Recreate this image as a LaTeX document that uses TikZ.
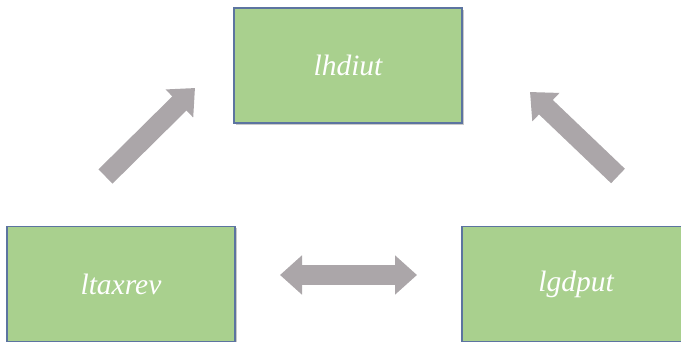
\documentclass[tikz,border=0pt]{standalone}
\usepackage{fontspec}
\setmainfont{Liberation Serif}
\usetikzlibrary{arrows.meta,shadows}

\definecolor{boxgreen}{RGB}{169,208,142}
\definecolor{boxedge}{RGB}{92,116,160}
\definecolor{arrowgray}{RGB}{171,166,169}

\tikzset{
  stagebox/.style={rectangle, draw=boxedge, line width=1.1pt, fill=boxgreen,
    minimum width=228pt, minimum height=115pt, text=white,
    font=\fontsize{29.5}{34}\selectfont\itshape,
    drop shadow={shadow xshift=2pt, shadow yshift=-2pt, opacity=0.3, fill=black!70}},
  blockarrow/.style={draw=arrowgray, line width=20pt, line cap=butt,
    -{Triangle[width=38pt, length=22pt, fill=arrowgray]}},
  twoarrow/.style={draw=arrowgray, line width=20pt, line cap=butt,
    {Triangle[width=38pt, length=22pt, fill=arrowgray]}-{Triangle[width=38pt, length=22pt, fill=arrowgray]}}
}

\begin{document}
\begin{tikzpicture}[x=1pt, y=-1pt]
    \useasboundingbox (0,0) rectangle (681,342);

    % Boxes
    \node[stagebox] (lhdiut) at (348,65.5) {lhdiut};
    \node[stagebox] (ltaxrev) at (121,284) {ltaxrev};
    \node[stagebox] (lgdput) at (576,284) {lgdput};

    % Arrow end points
    \coordinate (upleftfrom) at (105.5,176.5);
    \coordinate (uplefttip) at (195,88);
    \coordinate (uprightfrom) at (618,176);
    \coordinate (uprighttip) at (530,92);
    \coordinate (midleft) at (280,275);
    \coordinate (midright) at (417,275);

    % Arrows
    \draw[blockarrow] (upleftfrom) -- (uplefttip);
    \draw[blockarrow] (uprightfrom) -- (uprighttip);
    \draw[twoarrow] (midleft) -- (midright);
\end{tikzpicture}
\end{document}
